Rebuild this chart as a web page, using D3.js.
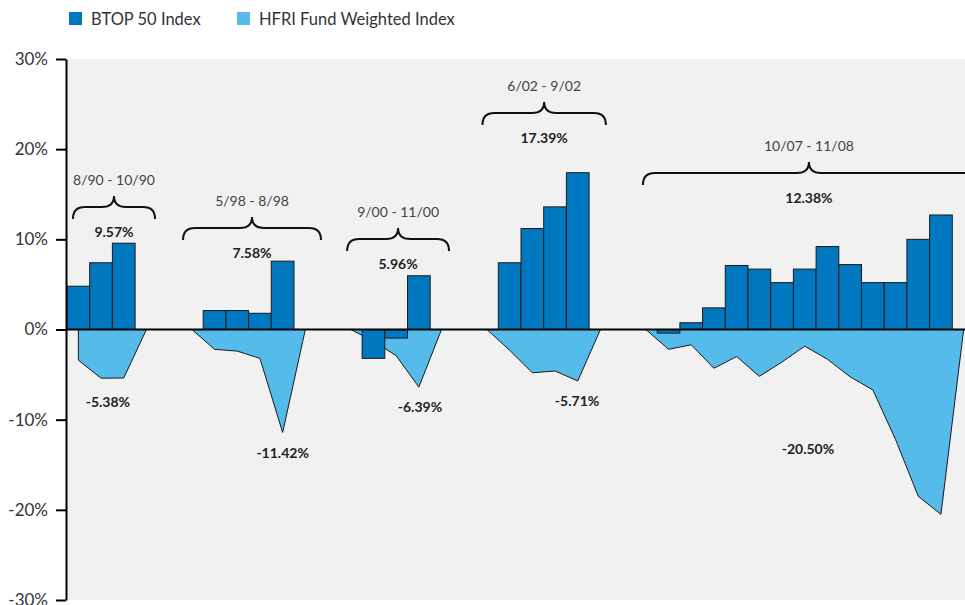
<!DOCTYPE html>
<html>
<head>
<meta charset="utf-8">
<script src="https://cdn.jsdelivr.net/npm/d3@7"></script>
<style>
  body { margin: 0; background: #fff; }
  svg { display: block; font-family: Lato, "Noto Sans", sans-serif; }
</style>
</head>
<body>
<svg></svg>
<script>
// one slot per month, only the crisis months carry a BTOP bar
let btop = [4.8, 7.4, 9.57, null, null, null,
            2.1, 2.1, 1.8, 7.58, null, null, null,
            -3.2, -0.95, 5.96, null, null, null,
            7.4, 11.2, 13.6, 17.39, null, null, null,
            -0.4, 0.75, 2.4, 7.1, 6.7, 5.2, 6.7, 9.2, 7.2, 5.2, 5.2, 10.0, 12.7, null]
let hfri = [-3.4, -5.4, -5.38, 0, 0, 0,
            -2.2, -2.4, -3.2, -11.42, 0, 0, 0,
            -1.3, -2.9, -6.39, 0, 0, 0,
            -2.3, -4.8, -4.6, -5.71, 0, 0, 0,
            -2.2, -1.7, -4.3, -3.0, -5.2, -3.6, -1.85, -3.3, -5.25, -6.7, -12.2, -18.5, -20.5, 0]

let seriesNames = ["BTOP 50 Index", "HFRI Fund Weighted Index"]
let periods = ["8/90 - 10/90", "5/98 - 8/98", "9/00 - 11/00", "6/02 - 9/02", "10/07 - 11/08"]
let btopTotals = ["9.57%", "7.58%", "5.96%", "17.39%", "12.38%"]
let hfriTotals = ["-5.38%", "-11.42%", "-6.39%", "-5.71%", "-20.50%"]
let yTicks = [-30, -20, -10, 0, 10, 20, 30]

// annotation anchors, in slot units and percent
let braceFrom = [0.26, 5.11, 12.34, 18.3, 25.37]
let braceTo = [3.88, 11.19, 16.83, 23.74, 40.0]
let braceTop = [14.8, 12.48, 11.26, 25.23, 18.58]
let hfriLabelSlot = [1.8, 9.5, 15.55, 22.47, 32.64]
let hfriLabelValue = [-8.55, -14.3, -9.1, -8.45, -13.8]

let width = 965
let height = 605
let plotLeft = 67
let plotRight = 975
let plotTop = 59
let plotBottom = 600

let colors = ["#0078bf", "#55bbea"]

let svg = d3.select("svg").attr("width", width).attr("height", height)

let xScale = d3.scaleBand()
               .domain(d3.range(btop.length))
               .range([plotLeft, plotRight])
let slotX = s => plotLeft + s * xScale.step()
let yScale = d3.scaleLinear()
               .domain([-30, 30])
               .range([plotBottom, plotTop])

// plot background
svg.append("rect")
   .attr("x", plotLeft)
   .attr("y", plotTop)
   .attr("width", width - plotLeft)
   .attr("height", plotBottom - plotTop)
   .attr("fill", "#f1f1f1")

// HFRI as a filled area
let area = d3.area()
             .x((d, i) => xScale(i) + xScale.bandwidth() / 2)
             .y0(yScale(0))
             .y1(d => yScale(d))
svg.append("path")
   .datum(hfri)
   .attr("d", area)
   .attr("fill", colors[1])
   .attr("stroke", "#1a1a1a")
   .attr("stroke-width", 1)

// BTOP bars
svg.selectAll(".bar")
   .data(btop.map((v, i) => [i, v]).filter(d => d[1] !== null))
   .enter()
   .append("rect")
   .attr("class", "bar")
   .attr("x", d => xScale(d[0]))
   .attr("width", xScale.bandwidth())
   .attr("y", d => yScale(Math.max(0, d[1])))
   .attr("height", d => Math.abs(yScale(d[1]) - yScale(0)))
   .attr("fill", colors[0])
   .attr("stroke", "#1a1a1a")
   .attr("stroke-width", 1)

// zero line
svg.append("line")
   .attr("x1", plotLeft - 1)
   .attr("x2", width)
   .attr("y1", yScale(0))
   .attr("y2", yScale(0))
   .attr("stroke", "#000")
   .attr("stroke-width", 2)

// y axis
let yAxis = d3.axisLeft(yScale)
              .tickValues(yTicks)
              .tickFormat(d => d + "%")
              .tickSize(10)
              .tickSizeOuter(0)
              .tickPadding(8)
let axisG = svg.append("g")
               .attr("transform", "translate(" + (plotLeft - 1) + ",0)")
               .call(yAxis)
axisG.select(".domain").attr("stroke", "#000").attr("stroke-width", 2)
axisG.selectAll(".tick line").attr("stroke", "#000").attr("stroke-width", 2)
axisG.selectAll(".tick text")
     .attr("font-family", "Lato, sans-serif")
     .attr("font-size", 17)
     .attr("fill", "#333")

// braces with period and BTOP total
let bracePath = (x0, x1, yPeak) => {
  let xc = (x0 + x1) / 2
  let yH = yPeak + 11
  let yTip = yPeak + 23
  let r = 12
  return "M" + x0 + "," + yTip +
         "Q" + x0 + "," + yH + " " + (x0 + r) + "," + yH +
         "L" + (xc - r) + "," + yH +
         "Q" + xc + "," + yH + " " + xc + "," + yPeak +
         "Q" + xc + "," + yH + " " + (xc + r) + "," + yH +
         "L" + (x1 - r) + "," + yH +
         "Q" + x1 + "," + yH + " " + x1 + "," + yTip
}

periods.forEach((p, i) => {
  let x0 = slotX(braceFrom[i])
  let x1 = slotX(braceTo[i])
  let xc = (x0 + x1) / 2
  let yPeak = yScale(braceTop[i])
  svg.append("path")
     .attr("d", bracePath(x0, x1, yPeak))
     .attr("fill", "none")
     .attr("stroke", "#111")
     .attr("stroke-width", 2)
  svg.append("text")
     .attr("x", xc)
     .attr("y", yPeak - 11)
     .attr("text-anchor", "middle")
     .attr("font-size", 14)
     .attr("fill", "#444")
     .text(p)
  svg.append("text")
     .attr("x", xc)
     .attr("y", yPeak + 41)
     .attr("text-anchor", "middle")
     .attr("font-size", 14)
     .attr("font-weight", "bold")
     .attr("fill", "#222")
     .text(btopTotals[i])
})

// HFRI totals
hfriTotals.forEach((t, i) => {
  svg.append("text")
     .attr("x", slotX(hfriLabelSlot[i]))
     .attr("y", yScale(hfriLabelValue[i]))
     .attr("text-anchor", "middle")
     .attr("font-size", 14)
     .attr("font-weight", "bold")
     .attr("fill", "#222")
     .text(t)
})

// legend
let legendX = [69, 237]
seriesNames.forEach((name, i) => {
  svg.append("rect")
     .attr("x", legendX[i])
     .attr("y", 12)
     .attr("width", 13)
     .attr("height", 13)
     .attr("fill", colors[i])
  svg.append("text")
     .attr("x", legendX[i] + 22)
     .attr("y", 25)
     .attr("font-size", 16.5)
     .attr("fill", "#333")
     .text(name)
})
</script>
</body>
</html>
